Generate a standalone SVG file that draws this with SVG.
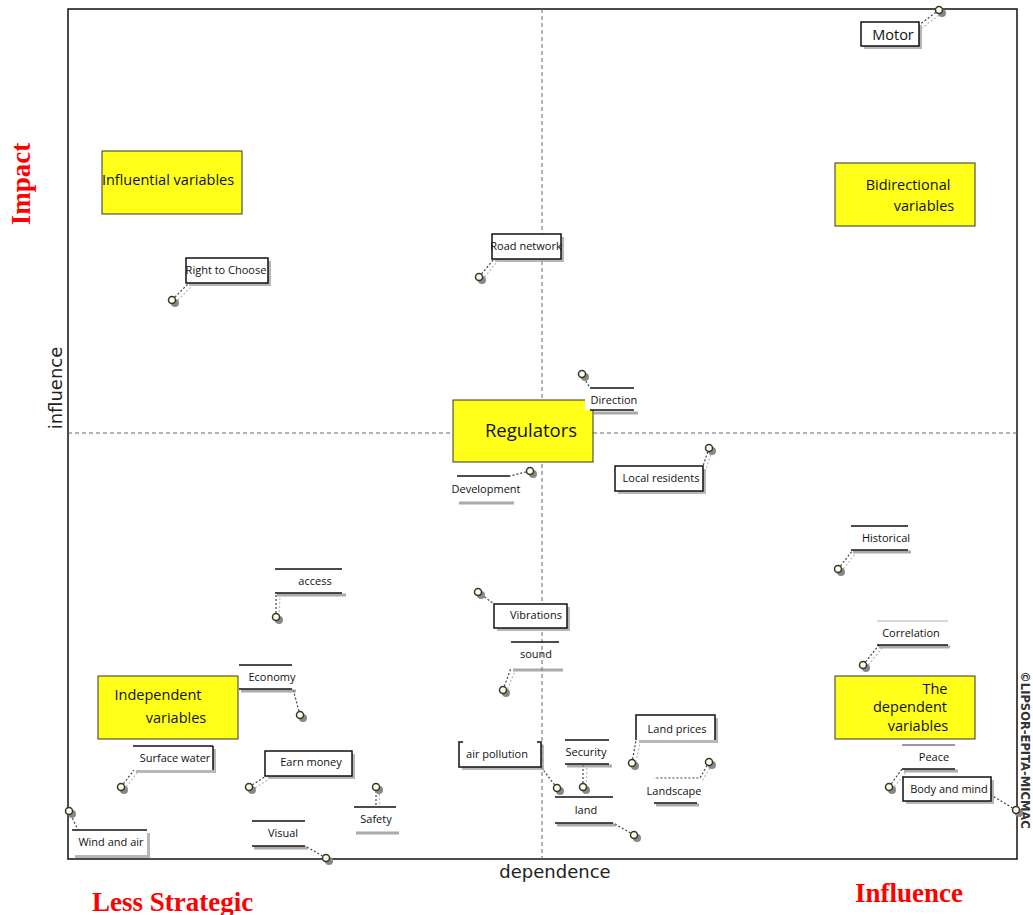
<svg xmlns="http://www.w3.org/2000/svg" width="1033" height="915" viewBox="0 0 1033 915">
<style>
.lbl{font-family:"Open Sans","Liberation Sans",sans-serif;font-size:11px;fill:#111;text-anchor:middle}
.quad{font-family:"Open Sans","Liberation Sans",sans-serif;font-size:14.5px;fill:#111}
.big{font-size:18.5px}
.mot{font-size:14.5px}
.ybox{fill:#ffff1a;stroke:#333;stroke-width:1}
.box{fill:#fff;stroke:#111;stroke-width:1.5}
.shd{fill:#999;opacity:0.7}
.ln{stroke:#111;stroke-width:1.5}
.lsh{stroke:#888;stroke-width:3;opacity:0.7}
.dot{stroke:#444;stroke-width:1.2;stroke-dasharray:2,2;fill:none}
.dsh{stroke:#bbb;stroke-width:1.2;stroke-dasharray:2,2;fill:none}
.pt{fill:#ffffe0;stroke:#333;stroke-width:1.5}
.pts{fill:#888}
.red{font-family:"Liberation Serif",serif;font-weight:bold;font-size:27px;fill:#f00}
.ax{font-family:"DejaVu Sans",sans-serif;font-size:18px;fill:#222}
.grid{stroke:#666;stroke-width:1;stroke-dasharray:4,3}
</style>

<g id="frame">
<rect x="68" y="9" width="949" height="850" fill="#fff" stroke="#111" stroke-width="1.5"/>
<line class="grid" x1="542" y1="9" x2="542" y2="859"/>
<line class="grid" x1="68" y1="433" x2="1017" y2="433"/>
</g>

<g id="axis-labels">
<text class="ax" transform="translate(62,388) rotate(-90)" text-anchor="middle">influence</text>
<text class="ax" x="555" y="878" text-anchor="middle">dependence</text>
<text transform="translate(1021,750) rotate(90)" text-anchor="middle" font-family="DejaVu Sans,sans-serif" font-size="11.5" font-weight="bold" fill="#333">©LIPSOR-EPITA-MICMAC</text>
<text class="red" transform="translate(30,184) rotate(-90)" text-anchor="middle">Impact</text>
<text class="red" x="92" y="911">Less Strategic</text>
<text class="red" x="855" y="902">Influence</text>
</g>

<g id="quadrants">
<g id="q-influential"><rect class="ybox" x="102" y="151" width="140" height="63"/><text class="quad" x="168" y="185" text-anchor="middle">Influential variables</text></g>
<g id="q-bidirectional"><rect class="ybox" x="835" y="163" width="140" height="63"/><text class="quad" x="908" y="190" text-anchor="middle">Bidirectional</text><text class="quad" x="924" y="211" text-anchor="middle">variables</text></g>
<g id="q-regulators"><rect class="ybox" x="453" y="400" width="140" height="62"/><text class="quad big" x="531" y="437" text-anchor="middle">Regulators</text></g>
<g id="q-independent"><rect class="ybox" x="98" y="676" width="140" height="63"/><text class="quad" x="158" y="700" text-anchor="middle">Independent</text><text class="quad" x="176" y="723" text-anchor="middle">variables</text></g>
<g id="q-dependent"><rect class="ybox" x="835" y="676" width="140" height="63"/><text class="quad" x="935" y="694" text-anchor="middle">The</text><text class="quad" x="910" y="712" text-anchor="middle">dependent</text><text class="quad" x="918" y="731" text-anchor="middle">variables</text></g>
</g>

<g id="connectors">
<path class="dsh" d="M942,13 L922,28"/><path class="dot" d="M939,10 L919,25"/>
<path class="dsh" d="M175,303 L192,286"/><path class="dot" d="M172,300 L189,283"/>
<path class="dsh" d="M482,280 L497,262"/><path class="dot" d="M479,277 L494,259"/>
<path class="dot" d="M582,374 L590,388"/>
<path class="dot" d="M530,471 L510,476"/>
<path class="dsh" d="M712,451 L706,469"/><path class="dot" d="M709,448 L703,466"/>
<path class="dsh" d="M841,572 L856,553"/><path class="dot" d="M838,569 L853,550"/>
<path class="dsh" d="M279,620 L280,596"/><path class="dot" d="M276,617 L276,593"/>
<path class="dot" d="M478,592 L494,604"/>
<path class="dsh" d="M506,693 L515,671"/><path class="dot" d="M503,690 L511,668"/>
<path class="dsh" d="M866,668 L882,648"/><path class="dot" d="M863,665 L879,645"/>
<path class="dot" d="M300,715 L293,689"/>
<path class="dsh" d="M124,790 L137,773"/><path class="dot" d="M121,787 L134,770"/>
<path class="dsh" d="M252,790 L269,779"/><path class="dot" d="M249,787 L266,776"/>
<path class="dot" d="M557,788 L541,767"/>
<path class="dsh" d="M586,790 L587,767"/><path class="dot" d="M583,787 L583,764"/>
<path class="dsh" d="M635,766 L640,743"/><path class="dot" d="M632,763 L636,740"/>
<path class="dsh" d="M712,765 L702,781"/><path class="dot" d="M709,762 L700,778 L654,778"/>
<path class="dot" d="M634,835 L613,823"/>
<path class="dsh" d="M379,790 L380,807"/><path class="dot" d="M376,787 L376,807"/>
<path class="dot" d="M326,858 L305,846"/>
<path class="dot" d="M69,811 L78,830"/>
<path class="dsh" d="M892,790 L906,772"/><path class="dot" d="M889,787 L902,769"/>
<path class="dot" d="M1016,810 L991,795"/>
</g>

<g id="n-motor"><rect class="shd" x="864" y="25" width="58" height="24"/><rect class="box" x="861" y="22" width="58" height="24"/><text class="lbl mot" x="893" y="40">Motor</text><circle class="pts" cx="942" cy="13" r="4"/><circle class="pt" cx="939" cy="10" r="3.5"/></g>

<g id="n-right-to-choose"><rect class="shd" x="189" y="261" width="82" height="25"/><rect class="box" x="186" y="258" width="82" height="25"/><text class="lbl" x="226" y="274">Right to Choose</text><circle class="pts" cx="175" cy="303" r="4"/><circle class="pt" cx="172" cy="300" r="3.5"/></g>

<g id="n-road-network"><rect class="shd" x="495" y="237" width="69" height="25"/><rect class="box" x="492" y="234" width="69" height="25"/><text class="lbl" x="526" y="250">Road network</text><circle class="pts" cx="482" cy="280" r="4"/><circle class="pt" cx="479" cy="277" r="3.5"/></g>

<g id="n-direction"><line class="lsh" x1="592" y1="413" x2="638" y2="413"/><rect x="585" y="388" width="50" height="22" fill="#fff"/><line class="ln" x1="590" y1="388" x2="634" y2="388"/><line class="ln" x1="590" y1="410" x2="634" y2="410"/><text class="lbl" x="614" y="404">Direction</text><circle class="pts" cx="585" cy="377" r="4"/><circle class="pt" cx="582" cy="374" r="3.5"/></g>

<g id="n-development"><line class="lsh" x1="459" y1="503" x2="514" y2="503"/><line class="ln" x1="457" y1="476" x2="510" y2="476"/><text class="lbl" x="486" y="493">Development</text><circle class="pts" cx="533" cy="474" r="4"/><circle class="pt" cx="530" cy="471" r="3.5"/></g>

<g id="n-local-residents"><rect class="shd" x="618" y="469" width="88" height="25"/><rect class="box" x="615" y="466" width="88" height="25"/><text class="lbl" x="661" y="482">Local residents</text><circle class="pts" cx="712" cy="451" r="4"/><circle class="pt" cx="709" cy="448" r="3.5"/></g>

<g id="n-historical"><line class="lsh" x1="853" y1="552" x2="911" y2="552"/><line class="ln" x1="851" y1="526" x2="908" y2="526"/><line class="ln" x1="851" y1="550" x2="908" y2="550"/><text class="lbl" x="886" y="542">Historical</text><circle class="pts" cx="841" cy="572" r="4"/><circle class="pt" cx="838" cy="569" r="3.5"/></g>

<g id="n-access"><line class="lsh" x1="277" y1="595" x2="346" y2="595"/><line class="ln" x1="275" y1="569" x2="342" y2="569"/><line class="ln" x1="275" y1="593" x2="342" y2="593"/><text class="lbl" x="315" y="585">access</text><circle class="pts" cx="279" cy="620" r="4"/><circle class="pt" cx="276" cy="617" r="3.5"/></g>

<g id="n-vibrations"><rect class="shd" x="497" y="607" width="73" height="24"/><rect class="box" x="494" y="604" width="73" height="24"/><text class="lbl" x="536" y="619">Vibrations</text><circle class="pts" cx="481" cy="595" r="4"/><circle class="pt" cx="478" cy="592" r="3.5"/></g>

<g id="n-sound"><line class="lsh" x1="513" y1="670" x2="563" y2="670"/><line class="ln" x1="511" y1="642" x2="559" y2="642"/><text class="lbl" x="536" y="658">sound</text><circle class="pts" cx="506" cy="693" r="4"/><circle class="pt" cx="503" cy="690" r="3.5"/></g>

<g id="n-correlation"><line class="lsh" x1="879" y1="647" x2="950" y2="647"/><line class="ln" x1="877" y1="621" x2="948" y2="621" style="stroke:#ccc"/><line class="ln" x1="877" y1="645" x2="948" y2="645"/><text class="lbl" x="911" y="637">Correlation</text><circle class="pts" cx="866" cy="668" r="4"/><circle class="pt" cx="863" cy="665" r="3.5"/></g>

<g id="n-economy"><line class="lsh" x1="241" y1="691" x2="296" y2="691"/><line class="ln" x1="239" y1="665" x2="292" y2="665"/><line class="ln" x1="239" y1="689" x2="292" y2="689"/><text class="lbl" x="272" y="681">Economy</text><circle class="pts" cx="303" cy="718" r="4"/><circle class="pt" cx="300" cy="715" r="3.5"/></g>

<g id="n-surface-water"><rect class="shd" x="136" y="749" width="80" height="24"/><rect x="133" y="746" width="80" height="24" fill="#fff"/><line class="ln" x1="133" y1="746" x2="213" y2="746"/><line class="ln" x1="213" y1="746" x2="213" y2="770"/><text class="lbl" x="175" y="762">Surface water</text><circle class="pts" cx="124" cy="790" r="4"/><circle class="pt" cx="121" cy="787" r="3.5"/></g>

<g id="n-earn-money"><rect class="shd" x="268" y="754" width="87" height="25"/><rect class="box" x="265" y="751" width="87" height="25"/><text class="lbl" x="311" y="766">Earn money</text><circle class="pts" cx="252" cy="790" r="4"/><circle class="pt" cx="249" cy="787" r="3.5"/></g>

<g id="n-air-pollution"><rect class="shd" x="462" y="745" width="82" height="25"/><rect x="459" y="742" width="82" height="25" fill="#fff"/><path class="ln" fill="none" d="M463,742 H459 V767 H541 V742 H537"/><text class="lbl" x="497" y="758">air pollution</text><circle class="pts" cx="560" cy="791" r="4"/><circle class="pt" cx="557" cy="788" r="3.5"/></g>

<g id="n-security"><line class="lsh" x1="567" y1="766" x2="612" y2="766"/><line class="ln" x1="565" y1="740" x2="609" y2="740"/><line class="ln" x1="565" y1="764" x2="609" y2="764"/><text class="lbl" x="586" y="756">Security</text><circle class="pts" cx="586" cy="790" r="4"/><circle class="pt" cx="583" cy="787" r="3.5"/></g>

<g id="n-land-prices"><rect class="shd" x="639" y="718" width="79" height="25"/><rect x="636" y="715" width="79" height="25" fill="#fff"/><path class="ln" fill="none" d="M636,740 V715 H715 V740"/><text class="lbl" x="677" y="733">Land prices</text><circle class="pts" cx="635" cy="766" r="4"/><circle class="pt" cx="632" cy="763" r="3.5"/></g>

<g id="n-landscape"><line class="lsh" x1="656" y1="805" x2="699" y2="805"/><line class="ln" x1="654" y1="803" x2="697" y2="803"/><text class="lbl" x="674" y="795">Landscape</text><circle class="pts" cx="712" cy="765" r="4"/><circle class="pt" cx="709" cy="762" r="3.5"/></g>

<g id="n-land"><line class="lsh" x1="557" y1="825" x2="616" y2="825"/><line class="ln" x1="555" y1="797" x2="613" y2="797"/><line class="ln" x1="555" y1="823" x2="613" y2="823"/><text class="lbl" x="586" y="814">land</text><circle class="pts" cx="637" cy="838" r="4"/><circle class="pt" cx="634" cy="835" r="3.5"/></g>

<g id="n-safety"><line class="lsh" x1="356" y1="833" x2="399" y2="833"/><line class="ln" x1="354" y1="807" x2="396" y2="807"/><text class="lbl" x="376" y="823">Safety</text><circle class="pts" cx="379" cy="790" r="4"/><circle class="pt" cx="376" cy="787" r="3.5"/></g>

<g id="n-visual"><line class="lsh" x1="254" y1="848" x2="308" y2="848"/><line class="ln" x1="252" y1="821" x2="305" y2="821"/><line class="ln" x1="252" y1="846" x2="305" y2="846"/><text class="lbl" x="283" y="837">Visual</text><circle class="pts" cx="329" cy="861" r="4"/><circle class="pt" cx="326" cy="858" r="3.5"/></g>

<g id="n-wind-and-air"><rect class="shd" x="75" y="833" width="75" height="25"/><rect x="72" y="830" width="75" height="25" fill="#fff"/><line class="ln" x1="72" y1="830" x2="147" y2="830"/><text class="lbl" x="111" y="846">Wind and air</text><circle class="pts" cx="72" cy="814" r="4"/><circle class="pt" cx="69" cy="811" r="3.5"/></g>

<g id="n-peace"><line class="lsh" x1="904" y1="771" x2="958" y2="771"/><line class="ln" x1="902" y1="745" x2="955" y2="745" style="stroke:#777"/><line class="ln" x1="902" y1="769" x2="955" y2="769"/><text class="lbl" x="934" y="761">Peace</text><circle class="pts" cx="892" cy="790" r="4"/><circle class="pt" cx="889" cy="787" r="3.5"/></g>

<g id="n-body-and-mind"><rect class="shd" x="906" y="780" width="88" height="24"/><rect class="box" x="903" y="777" width="88" height="24"/><text class="lbl" x="949" y="793">Body and mind</text><circle class="pts" cx="1019" cy="813" r="4"/><circle class="pt" cx="1016" cy="810" r="3.5"/></g>
</svg>
